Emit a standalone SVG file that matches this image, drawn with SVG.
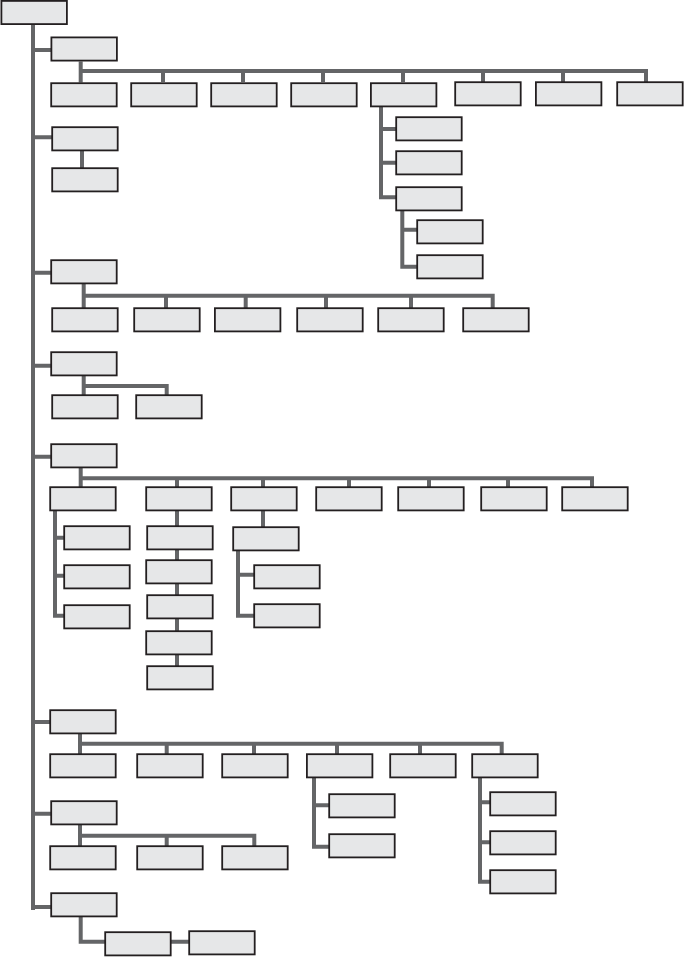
<svg xmlns="http://www.w3.org/2000/svg" width="684" height="957" viewBox="0 0 684 957">
<style>
.b{fill:#e6e7e8;stroke:#231f20;stroke-width:1.8}
.c{fill:none;stroke:#646567;stroke-width:4;stroke-linejoin:miter}
</style>
<defs><rect id="bx" class="b" x="0.9" y="0.9" width="65.5" height="23.2"/></defs>
<rect width="684" height="957" fill="#fff"/>
<g id="connectors" class="c">
<path d="M33 25V910"/>
<path d="M33 50H51M33 137.3H52M33 272.7H51M33 365.7H51M33 456.7H51M33 722H50M33 813.7H51M33 907H51"/>
<path d="M80.7 61.5V82.5M78.7 71H646V82M163 71V82M243 71V82M323 71V82M403 71V82M483 71V82M563 71V82"/>
<path d="M381 107V199.3M381 129H396M381 162.7H396M379 197.3H396"/>
<path d="M402.3 210V268.7M402.3 229.7H417M400.3 266.7H417"/>
<path d="M82 151V168"/>
<path d="M83.7 284V308M81.7 295.7H492.7V308M166 295.7V308M245.7 295.7V308M326 295.7V308M411 295.7V308"/>
<path d="M83.7 376V395M81.7 386H166.7V395"/>
<path d="M80.7 468V487M78.7 478.3H592V487M177 478.3V487M263 478.3V487M349 478.3V487M429 478.3V487M508 478.3V487"/>
<path d="M55 511V617.7M55 537.7H64M55 575.7H64M53 615.7H64"/>
<path d="M177 511V666"/>
<path d="M263 511V527M238 551V617.7M238 574.7H254M236 615.7H254"/>
<path d="M80 734V754M78 743.7H501.7V754M166.7 743.7V754M254 743.7V754M337 743.7V754M420 743.7V754"/>
<path d="M314 778V848.7M314 805.3H329M312 846.7H329"/>
<path d="M480 778V883.7M480 802.3H490M480 842.3H490M478 881.7H490"/>
<path d="M80 825V846M78 835.7H254.3V846M166.7 835.7V846"/>
<path d="M80.7 917V941.7H105M171 941.7H189"/>
</g>
<g id="n-root"><use href="#bx" x="0.5" y="0"/></g>
<g id="n-a"><use href="#bx" x="50.5" y="36.5"/></g>
<g id="n-a1"><use href="#bx" x="50.3" y="82.3"/></g>
<g id="n-a2"><use href="#bx" x="130.3" y="82.3"/></g>
<g id="n-a3"><use href="#bx" x="210.3" y="82.3"/></g>
<g id="n-a4"><use href="#bx" x="290.3" y="82.3"/></g>
<g id="n-a5"><use href="#bx" x="370" y="82.3"/></g>
<g id="n-a6"><use href="#bx" x="454.3" y="81.3"/></g>
<g id="n-a7"><use href="#bx" x="535" y="81.3"/></g>
<g id="n-a8"><use href="#bx" x="616.3" y="81.3"/></g>
<g id="n-a5-1"><use href="#bx" x="395.3" y="116.3"/></g>
<g id="n-a5-2"><use href="#bx" x="395.3" y="150.3"/></g>
<g id="n-a5-3"><use href="#bx" x="395.3" y="186.3"/></g>
<g id="n-a5-3-1"><use href="#bx" x="416.3" y="219.3"/></g>
<g id="n-a5-3-2"><use href="#bx" x="416.3" y="254.3"/></g>
<g id="n-b"><use href="#bx" x="51.3" y="126.3"/></g>
<g id="n-b1"><use href="#bx" x="51.3" y="167.3"/></g>
<g id="n-c"><use href="#bx" x="50.3" y="259.3"/></g>
<g id="n-c1"><use href="#bx" x="51.3" y="307.3"/></g>
<g id="n-c2"><use href="#bx" x="133.3" y="307.3"/></g>
<g id="n-c3"><use href="#bx" x="214" y="307.3"/></g>
<g id="n-c4"><use href="#bx" x="296.3" y="307.3"/></g>
<g id="n-c5"><use href="#bx" x="377.3" y="307.3"/></g>
<g id="n-c6"><use href="#bx" x="462.3" y="307.3"/></g>
<g id="n-d"><use href="#bx" x="50.3" y="351.3"/></g>
<g id="n-d1"><use href="#bx" x="51.3" y="394.3"/></g>
<g id="n-d2"><use href="#bx" x="135.3" y="394.3"/></g>
<g id="n-e"><use href="#bx" x="50.3" y="443.3"/></g>
<g id="n-e1"><use href="#bx" x="49.3" y="486.3"/></g>
<g id="n-e2"><use href="#bx" x="145.3" y="486.3"/></g>
<g id="n-e3"><use href="#bx" x="230.3" y="486.3"/></g>
<g id="n-e4"><use href="#bx" x="315.3" y="486.3"/></g>
<g id="n-e5"><use href="#bx" x="397.3" y="486.3"/></g>
<g id="n-e6"><use href="#bx" x="480.3" y="486.3"/></g>
<g id="n-e7"><use href="#bx" x="561.3" y="486.3"/></g>
<g id="n-e1-1"><use href="#bx" x="63.3" y="525.3"/></g>
<g id="n-e1-2"><use href="#bx" x="63.3" y="564.3"/></g>
<g id="n-e1-3"><use href="#bx" x="63.3" y="604.3"/></g>
<g id="n-e2-1"><use href="#bx" x="146.3" y="525.3"/></g>
<g id="n-e2-2"><use href="#bx" x="145.3" y="559.3"/></g>
<g id="n-e2-3"><use href="#bx" x="146.3" y="594.3"/></g>
<g id="n-e2-4"><use href="#bx" x="145.3" y="630.3"/></g>
<g id="n-e2-5"><use href="#bx" x="146.3" y="665.3"/></g>
<g id="n-e3-1"><use href="#bx" x="232.3" y="526.3"/></g>
<g id="n-e3-1-1"><use href="#bx" x="253.3" y="564.3"/></g>
<g id="n-e3-1-2"><use href="#bx" x="253.3" y="603.3"/></g>
<g id="n-f"><use href="#bx" x="49.3" y="709.3"/></g>
<g id="n-f1"><use href="#bx" x="49.3" y="753.3"/></g>
<g id="n-f2"><use href="#bx" x="136.3" y="753.3"/></g>
<g id="n-f3"><use href="#bx" x="221.3" y="753.3"/></g>
<g id="n-f4"><use href="#bx" x="306" y="753.3"/></g>
<g id="n-f5"><use href="#bx" x="389.3" y="753.3"/></g>
<g id="n-f6"><use href="#bx" x="471.3" y="753.3"/></g>
<g id="n-f4-1"><use href="#bx" x="328.3" y="793.3"/></g>
<g id="n-f4-2"><use href="#bx" x="328.3" y="833.3"/></g>
<g id="n-f6-1"><use href="#bx" x="489.3" y="791.3"/></g>
<g id="n-f6-2"><use href="#bx" x="489.3" y="830.3"/></g>
<g id="n-f6-3"><use href="#bx" x="489.3" y="869.3"/></g>
<g id="n-g"><use href="#bx" x="50.3" y="800.3"/></g>
<g id="n-g1"><use href="#bx" x="49.3" y="845.3"/></g>
<g id="n-g2"><use href="#bx" x="136.3" y="845.3"/></g>
<g id="n-g3"><use href="#bx" x="221.3" y="845.3"/></g>
<g id="n-h"><use href="#bx" x="50.3" y="892.3"/></g>
<g id="n-h1"><use href="#bx" x="104.3" y="931.3"/></g>
<g id="n-h2"><use href="#bx" x="188.3" y="930.3"/></g>
</svg>
